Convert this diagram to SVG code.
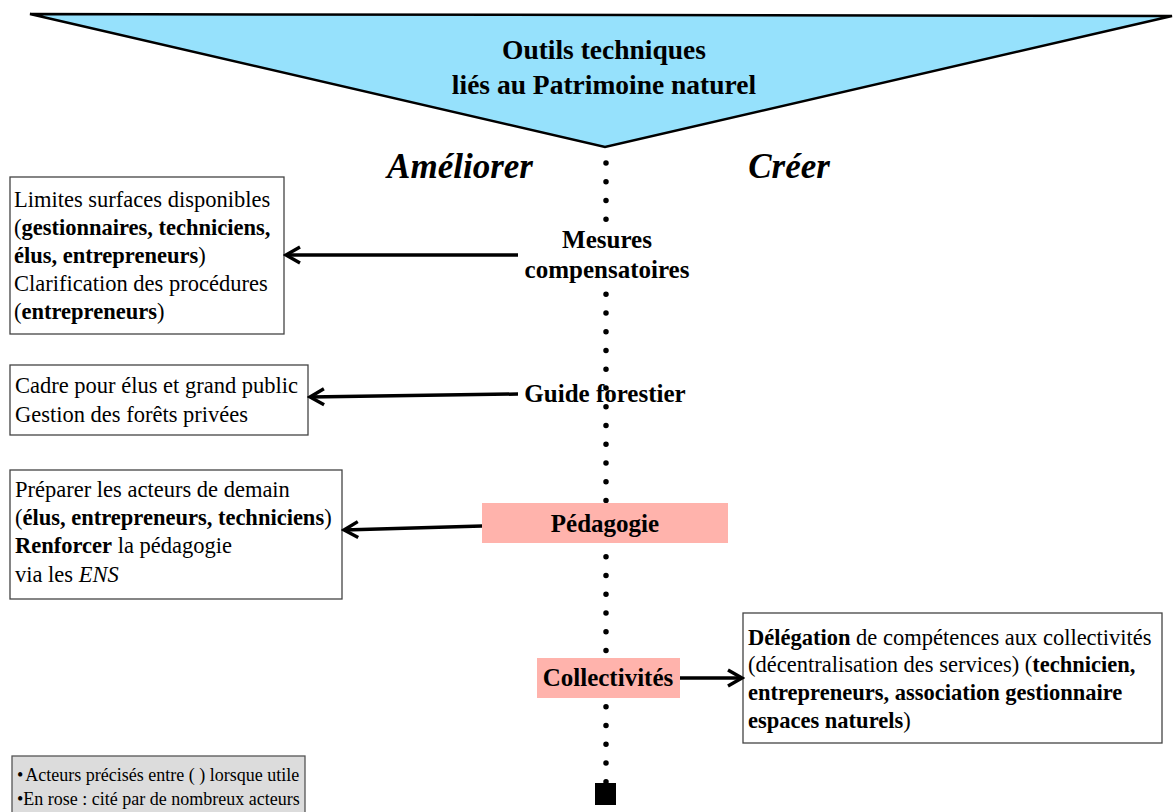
<svg xmlns="http://www.w3.org/2000/svg" width="1176" height="812" viewBox="0 0 1176 812">
<defs>
<marker id="chev" viewBox="0 0 20 20" refX="17" refY="10" markerWidth="20" markerHeight="20" markerUnits="userSpaceOnUse" orient="auto">
<path d="M3,2 L17,10 L3,18" fill="none" stroke="#000" stroke-width="3.4"/>
</marker>
</defs>
<style>
text{font-family:"Liberation Serif","Times New Roman",serif;fill:#000}
.box{fill:#fff;stroke:#444;stroke-width:1.3}
.bt{font-size:22.5px}
.b{font-weight:bold}
.lbl{font-size:25px;font-weight:bold;text-anchor:middle}
.pink{fill:#FFB3AC}
.conn{stroke:#000;stroke-width:3.5;fill:none;marker-end:url(#chev)}
</style>
<rect width="1176" height="812" fill="#fff"/>

<g id="header">
<path d="M30,14 L1172,16 L605,147 Z" fill="#96E1FC" stroke="#000" stroke-width="2.5" stroke-linejoin="miter"/>
<text x="604" y="59" font-size="27.5" font-weight="bold" text-anchor="middle">Outils techniques</text>
<text x="604" y="94" font-size="27.5" font-weight="bold" text-anchor="middle">liés au Patrimoine naturel</text>
</g>

<g id="headings">
<text x="460" y="178" font-size="35" font-weight="bold" font-style="italic" text-anchor="middle">Améliorer</text>
<text x="789" y="178" font-size="35" font-weight="bold" font-style="italic" text-anchor="middle">Créer</text>
</g>

<g id="axis">
<line x1="606" y1="163" x2="606" y2="782" stroke="#000" stroke-width="5.5" stroke-linecap="round" stroke-dasharray="0 18.75"/>
<rect x="590" y="226" width="32" height="60" fill="#fff"/>
<rect x="595" y="783" width="21" height="22" fill="#000"/>
</g>

<g id="n-mesures">
<text class="lbl" x="607" y="248">Mesures</text>
<text class="lbl" x="607" y="278">compensatoires</text>
</g>
<g id="n-guide">
<text class="lbl" x="605" y="402">Guide forestier</text>
</g>
<g id="n-pedagogie">
<rect class="pink" x="482" y="503" width="246" height="40"/>
<text class="lbl" x="605" y="532">Pédagogie</text>
</g>
<g id="n-collectivites">
<rect class="pink" x="537" y="658" width="143" height="40"/>
<text class="lbl" x="608" y="686">Collectivités</text>
</g>

<g id="box-mesures">
<rect class="box" x="10" y="177" width="274" height="157"/>
<text class="bt" x="14" y="207">Limites surfaces disponibles</text>
<text class="bt" x="14" y="235">(<tspan class="b">gestionnaires, techniciens,</tspan></text>
<text class="bt" x="14" y="263"><tspan class="b">élus, entrepreneurs</tspan>)</text>
<text class="bt" x="14" y="291">Clarification des procédures</text>
<text class="bt" x="14" y="319">(<tspan class="b">entrepreneurs</tspan>)</text>
</g>

<g id="box-guide">
<rect class="box" x="10" y="365" width="298" height="70"/>
<text class="bt" x="15" y="393">Cadre pour élus et grand public</text>
<text class="bt" x="15" y="422">Gestion des forêts privées</text>
</g>

<g id="box-pedagogie">
<rect class="box" x="10" y="470" width="332" height="129"/>
<text class="bt" x="15" y="497">Préparer les acteurs de demain</text>
<text class="bt" x="15" y="525">(<tspan class="b">élus, entrepreneurs, techniciens</tspan>)</text>
<text class="bt" x="15" y="553"><tspan class="b">Renforcer</tspan> la pédagogie</text>
<text class="bt" x="15" y="582">via les <tspan font-style="italic">ENS</tspan></text>
</g>

<g id="box-collectivites">
<rect class="box" x="743" y="613" width="419" height="130"/>
<text class="bt" x="748" y="645"><tspan class="b">Délégation</tspan> de compétences aux collectivités</text>
<text class="bt" x="748" y="672">(décentralisation des services) (<tspan class="b">technicien,</tspan></text>
<text class="bt" x="748" y="700"><tspan class="b">entrepreneurs, association gestionnaire</tspan></text>
<text class="bt" x="748" y="728"><tspan class="b">espaces naturels</tspan>)</text>
</g>

<g id="legend">
<rect x="12" y="756" width="293" height="60" fill="#DCDCDC" stroke="#555" stroke-width="1.3"/>
<text x="17" y="781" font-size="18">•<tspan dx="2">Acteurs précisés entre ( ) lorsque utile</tspan></text>
<text x="17" y="805" font-size="18">•En rose : cité par de nombreux acteurs</text>
</g>

<g id="connectors">
<line class="conn" x1="518" y1="255" x2="286" y2="255"/>
<line class="conn" x1="518" y1="394" x2="310" y2="397"/>
<line class="conn" x1="482" y1="526" x2="344" y2="530"/>
<line class="conn" x1="680" y1="678" x2="742" y2="678"/>
</g>
</svg>
